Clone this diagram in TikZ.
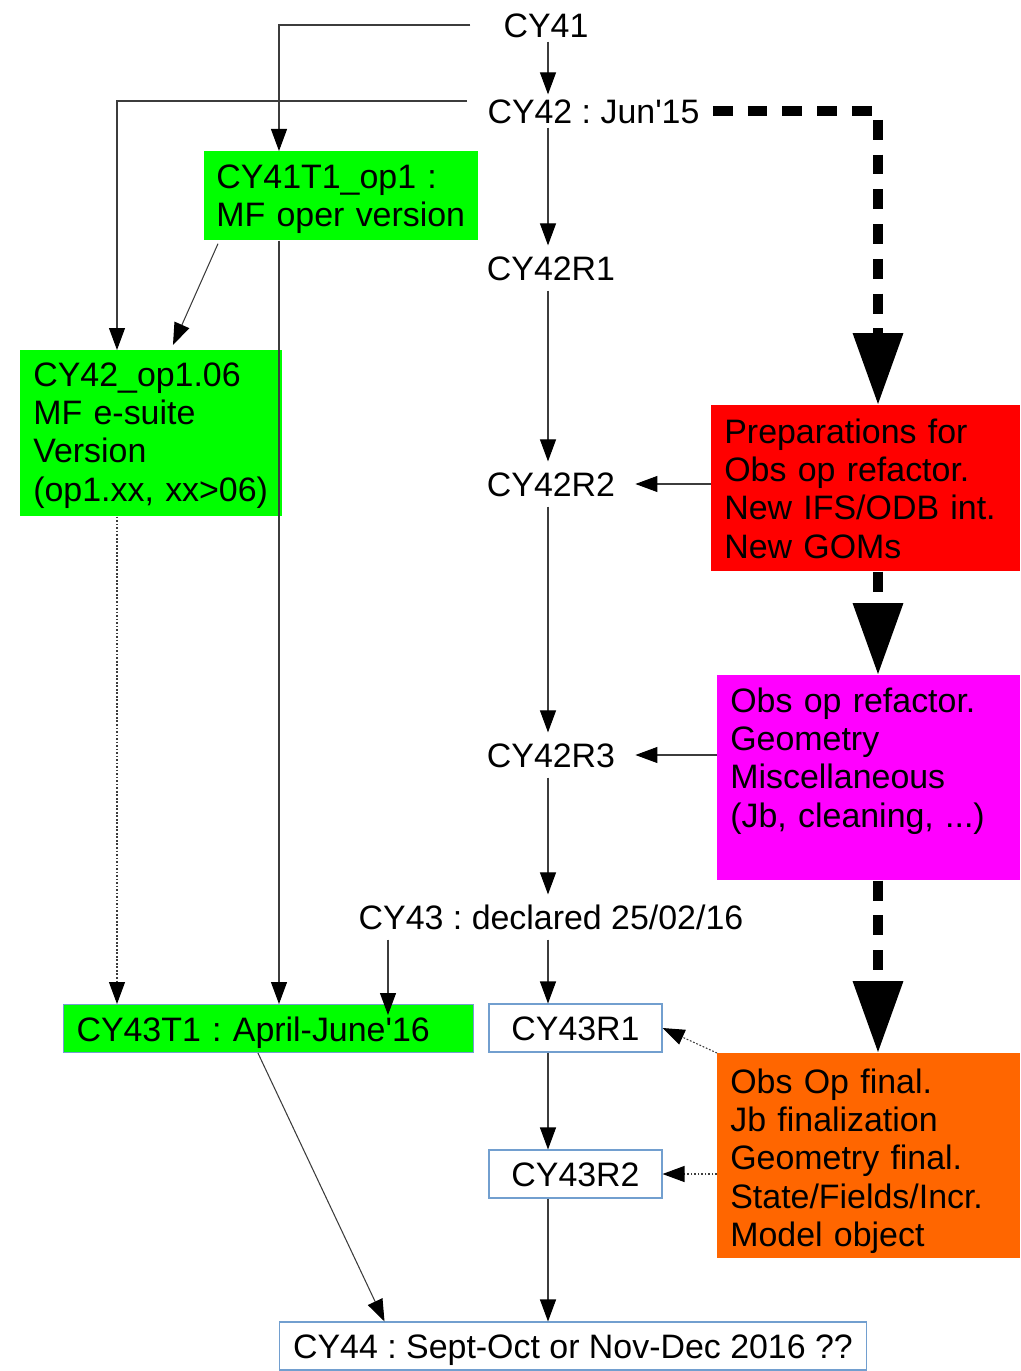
\documentclass[tikz,border=0pt]{standalone}
\usepackage{fontspec}
\setmainfont{Liberation Sans}[Ligatures=TeXOff]
\usetikzlibrary{arrows.meta,calc}
\definecolor{cycleGreen}{RGB}{0,255,0}
\definecolor{prepRed}{RGB}{255,0,0}
\definecolor{refacMagenta}{RGB}{255,0,255}
\definecolor{finalOrange}{RGB}{255,102,0}
\definecolor{edgeBlue}{RGB}{114,159,207}
\definecolor{lineGray}{RGB}{60,60,60}
\frenchspacing

\begin{document}
\begin{tikzpicture}[x=0.02cm,y=-0.02cm,
  font=\fontsize{19.3}{21.8}\selectfont,
  lbl/.style={inner xsep=0.4cm,inner ysep=0.2cm,text height=0.49cm,text depth=0pt},
  box/.style={anchor=north west,align=left,inner xsep=0.26cm,inner ysep=0pt},
  relbox/.style={draw=edgeBlue,line width=0.6pt,fill=white,minimum height=0.96cm,
    inner ysep=0pt,text height=0.49cm,text depth=0pt},
  arr/.style={draw=lineGray,line width=0.6pt,-{Triangle[length=0.44cm,width=0.32cm,color=black]}},
  dots/.style={arr,dash pattern=on 1pt off 1pt},
  bigdash/.style={line width=5.7pt,dash pattern=on 11.3pt off 8.5pt,
    -{Triangle[length=1.44cm,width=0.96cm]}}]
\useasboundingbox (0,0) rectangle (1020,1371);

% Columns
\coordinate (colB) at (117,0);
\coordinate (colA) at (279,0);
\coordinate (colE) at (388,0);
\coordinate (colC) at (548,0);
\coordinate (colD) at (878,0);

% Cycle labels
\node[lbl,inner ysep=0.08cm] (cy41) at (546,25) {CY41};
\node[lbl,inner ysep=0.08cm] (cy42) at (593.5,111) {CY42 : Jun'15};
\node[lbl] (r421) at (551,268) {CY42R1};
\node[lbl] (r422) at (551,484) {CY42R2};
\node[lbl] (r423) at (551,755) {CY42R3};
\node[lbl] (cy43) at (551,917) {CY43 : declared 25/02/16};

% Boxes
\node[box,fill=cycleGreen,inner xsep=0.24cm,text width=5cm,text height=0.74cm,text depth=1.04cm]
  (op1) at (204,151) {CY41T1\_op1 :\\\mbox{MF oper version}};
\node[box,fill=cycleGreen,text width=4.72cm,text height=0.72cm,text depth=2.6cm]
  (esuite) at (20,350) {CY42\_op1.06\\MF e-suite\\Version\\\mbox{(op1.xx, xx>06)}};
\node[box,fill=prepRed,text width=5.66cm,text height=0.76cm,text depth=2.56cm]
  (prep) at (711,405) {Preparations for\\Obs op refactor.\\New IFS/ODB int.\\New GOMs};
\node[box,fill=refacMagenta,text width=5.54cm,text height=0.74cm,text depth=3.36cm]
  (refac) at (717,675) {Obs op refactor.\\Geometry\\Miscellaneous\\(Jb, cleaning, ...)};
\node[box,fill=finalOrange,text width=5.54cm,text height=0.8cm,text depth=3.3cm]
  (final) at (717,1053) {Obs Op final.\\Jb finalization\\Geometry final.\\State/Fields/Incr.\\Model object};
\node[box,fill=cycleGreen,draw=edgeBlue,line width=0.6pt,text width=7.68cm,
  text height=0.74cm,text depth=0.22cm] (t43) at (63,1004) {CY43T1 : April-June'16};
\node[relbox,minimum width=3.46cm] (r431) at (575.5,1028) {CY43R1};
\node[relbox,minimum width=3.46cm] (r432) at (575.5,1174) {CY43R2};
\node[relbox,minimum width=11.76cm] (cy44) at (573,1346) {CY44 : Sept-Oct or Nov-Dec 2016 ??};

% Main line
\draw[arr] (colC |- cy41.south) -- (colC |- cy42.north);
\draw[arr] (colC |- cy42.south) -- (colC |- r421.north);
\draw[arr] (colC |- r421.south) -- (colC |- r422.north);
\draw[arr] (colC |- r422.south) -- (colC |- r423.north);
\draw[arr] (colC |- r423.south) -- (colC |- cy43.north);
\draw[arr] (colC |- cy43.south) -- (colC |- r431.north);
\draw[arr] (colC |- r431.south) -- (colC |- r432.north);
\draw[arr] (colC |- r432.south) -- (colC |- cy44.north);

% Obs op work
\draw[bigdash] ([xshift=-0.14cm]cy42.east) -| (colD |- prep.north);
\draw[bigdash] (colD |- prep.south) -- (colD |- refac.north);
\draw[bigdash] (colD |- refac.south) -- (colD |- final.north);
\draw[arr] (prep.west |- r422.east) -- (r422.east);
\draw[arr] (refac.west |- r423.east) -- (r423.east);
\draw[dots] (final.north west) -- (r431.east);
\draw[dots] (final.west |- r432.east) -- (r432.east);

% MF branch
\draw[arr] ([xshift=-0.26cm]cy41.west) -| (colA |- op1.north);
\draw[arr] ([yshift=0.2cm]cy42.west) -| (colB |- esuite.north);
\draw[arr] ([xshift=0.28cm,yshift=-0.06cm]op1.south west) -- ([xshift=3.06cm,yshift=0.1cm]esuite.north west);
\draw[arr] (colA |- op1.south) -- (colA |- t43.north);
\draw[dots] (colB |- esuite.south) -- (colB |- t43.north);
\draw[arr] (colE |- cy43.south) -- ($(colE |- t43.north)+(0,11)$);
\draw[arr] ([xshift=3.9cm]t43.south west) -- ([xshift=2.12cm]cy44.north west);
\end{tikzpicture}
\end{document}
